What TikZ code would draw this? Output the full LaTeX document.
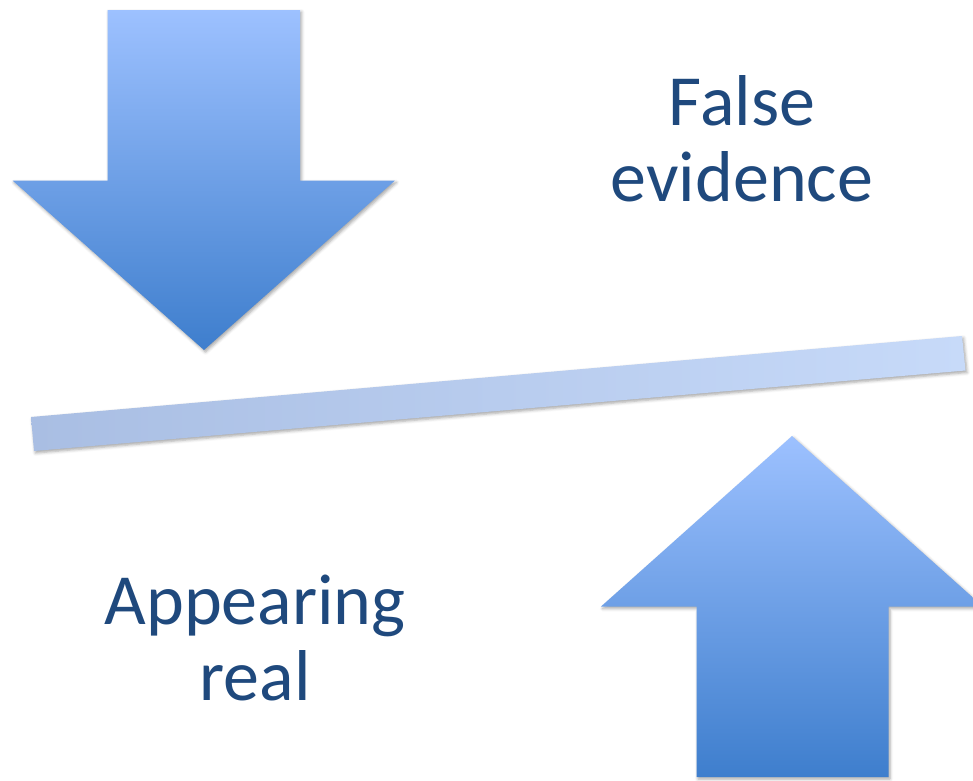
\documentclass[tikz,border=0pt]{standalone}
\usepackage{fontspec}
\setmainfont{Carlito}
\usetikzlibrary{shadows.blur}
\definecolor{txt}{HTML}{1F497D}
\definecolor{arrtop}{HTML}{9DC1FF}
\definecolor{arrbot}{HTML}{3E7ECD}
\definecolor{barL}{HTML}{A9BEE3}
\definecolor{barR}{HTML}{C7DAF9}
\tikzset{
  arrowshape/.style={top color=arrtop,bottom color=arrbot,
    blur shadow={shadow xshift=1.5pt,shadow yshift=-2pt,shadow blur radius=3pt,shadow opacity=35}},
  barshape/.style={left color=barL,right color=barR,
    blur shadow={shadow xshift=1.5pt,shadow yshift=-2pt,shadow blur radius=3pt,shadow opacity=35}},
  wordlabel/.style={text=txt,font=\fontsize{72}{76}\selectfont,align=center,inner sep=0pt}
}
\begin{document}
\begin{tikzpicture}[x=1pt,y=-1pt]
\useasboundingbox (0,0) rectangle (973,780);
\clip (0,0) rectangle (973,780);
% down arrow
\path[arrowshape] (107.5,10) -- (300,10) -- (300,180.5) -- (395,180.5) -- (204,350)
  -- (12.5,180.5) -- (107.5,180.5) -- cycle;
% bar
\path[barshape] (31,417) -- (962,336) -- (965.5,370.5) -- (34,451) -- cycle;
% up arrow
\path[arrowshape] (792,436) -- (983,606.5) -- (888.5,606.5) -- (888.5,777)
  -- (696.5,777) -- (696.5,606.5) -- (601,606.5) -- cycle;
% texts
\node[wordlabel,anchor=base] (t1) at (742,201.7) {False\\evidence};
\node[wordlabel,anchor=base] (t2) at (255,700) {Appearing\\real};
\end{tikzpicture}
\end{document}
